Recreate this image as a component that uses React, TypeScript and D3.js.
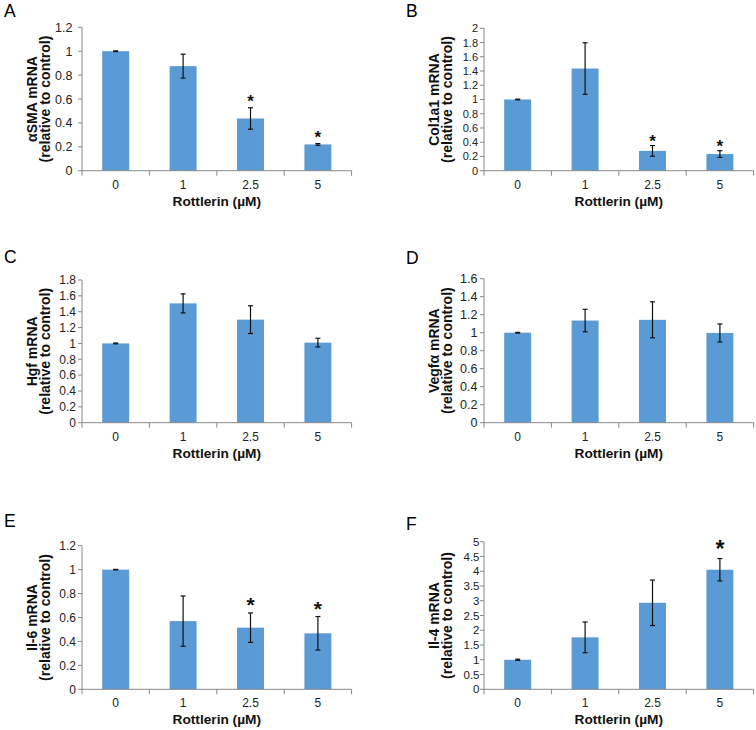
import React from "react";
import * as d3 from "d3";

// ---------- data ----------
const categories = ["0", "1", "2.5", "5"];
const xTitle = "Rottlerin (µM)";

const titleA = ["αSMA mRNA", "(relative to control)"];
const valuesA = [1.0, 0.875, 0.437, 0.22];
const errorsA = [0.003, 0.1, 0.09, 0.007];
const starsA = [false, false, true, true];
const yTicksA = [0, 0.2, 0.4, 0.6, 0.8, 1, 1.2];

const titleB = ["Col1a1 mRNA", "(relative to control)"];
const valuesB = [1.0, 1.435, 0.278, 0.234];
const errorsB = [0.005, 0.362, 0.075, 0.047];
const starsB = [false, false, true, true];
const yTicksB = [0, 0.2, 0.4, 0.6, 0.8, 1, 1.2, 1.4, 1.6, 1.8, 2];

const titleC = ["Hgf mRNA", "(relative to control)"];
const valuesC = [1.0, 1.505, 1.3, 1.01];
const errorsC = [0.005, 0.12, 0.175, 0.055];
const starsC = [false, false, false, false];
const yTicksC = [0, 0.2, 0.4, 0.6, 0.8, 1, 1.2, 1.4, 1.6, 1.8];

const titleD = ["Vegfα mRNA", "(relative to control)"];
const valuesD = [1.0, 1.135, 1.143, 0.997];
const errorsD = [0.004, 0.125, 0.2, 0.1];
const starsD = [false, false, false, false];
const yTicksD = [0, 0.2, 0.4, 0.6, 0.8, 1, 1.2, 1.4, 1.6];

const titleE = ["Il-6 mRNA", "(relative to control)"];
const valuesE = [1.0, 0.57, 0.515, 0.468];
const errorsE = [0.002, 0.21, 0.123, 0.14];
const starsE = [false, false, true, true];
const yTicksE = [0, 0.2, 0.4, 0.6, 0.8, 1, 1.2];

const titleF = ["Il-4 mRNA", "(relative to control)"];
const valuesF = [1.0, 1.76, 2.93, 4.05];
const errorsF = [0.02, 0.52, 0.77, 0.38];
const starsF = [false, false, false, true];
const yTicksF = [0, 0.5, 1, 1.5, 2, 2.5, 3, 3.5, 4, 4.5, 5];

// ---------- styling / layout ----------
const FONT = "'Liberation Sans', Arial, Helvetica, sans-serif";
const BAR = "#5B9BD5";
const AXIS = "#888888";
const PLOT_W = 269.6;

type PanelProps = {
  letter: string;
  title: string[];
  values: number[];
  errors: number[];
  stars: boolean[];
  ticks: number[];
  axisX: number;
  yTop: number;
  yBot: number;
  letterY: number;
  starSize: number;
  starGap: number;
  tickSize: number;
  tickGap: number;
};

const fmt = (t: number) => String(+t.toFixed(2));

function Panel(p: PanelProps) {
  const yMax = p.ticks[p.ticks.length - 1];
  const y = d3.scaleLinear().domain([0, yMax]).range([p.yBot, p.yTop]);
  const x = d3
    .scaleBand<string>()
    .domain(categories)
    .range([p.axisX, p.axisX + PLOT_W])
    .paddingInner(0.6)
    .paddingOuter(0.3);
  const step = x.step();
  const bw = x.bandwidth();
  const midY = (p.yTop + p.yBot) / 2;
  const xMid = p.axisX + PLOT_W / 2;
  return (
    <g>
      <text x={p.axisX - 78} y={p.letterY} fontSize={17.5} fontFamily={FONT} fill="#000">
        {p.letter}
      </text>
      {/* bars */}
      {categories.map((c, i) => (
        <rect
          key={"b" + i}
          x={x(c)}
          y={y(p.values[i])}
          width={bw}
          height={p.yBot - y(p.values[i])}
          fill={BAR}
        />
      ))}
      {/* y axis */}
      <line x1={p.axisX} x2={p.axisX} y1={p.yTop} y2={p.yBot} stroke={AXIS} strokeWidth={1} />
      {p.ticks.map((t, i) => (
        <g key={"yt" + i}>
          <line x1={p.axisX - 4} x2={p.axisX} y1={y(t)} y2={y(t)} stroke={AXIS} strokeWidth={1} />
          <text
            x={p.axisX - p.tickGap}
            y={y(t)}
            dy="0.36em"
            textAnchor="end"
            fontSize={p.tickSize}
            fontFamily={FONT}
            fill="#222"
          >
            {fmt(t)}
          </text>
        </g>
      ))}
      {/* x axis */}
      <line x1={p.axisX} x2={p.axisX + PLOT_W} y1={p.yBot} y2={p.yBot} stroke={AXIS} strokeWidth={1} />
      {d3.range(categories.length + 1).map((i) => (
        <line
          key={"xt" + i}
          x1={p.axisX + i * step}
          x2={p.axisX + i * step}
          y1={p.yBot}
          y2={p.yBot + 5}
          stroke={AXIS}
          strokeWidth={1}
        />
      ))}
      {categories.map((c, i) => (
        <text
          key={"xl" + i}
          x={(x(c) as number) + bw / 2}
          y={p.yBot + 18}
          textAnchor="middle"
          fontSize={12}
          fontFamily={FONT}
          fill="#222"
        >
          {c}
        </text>
      ))}
      <text
        x={xMid}
        y={p.yBot + 35}
        textAnchor="middle"
        fontSize={13.7}
        fontWeight="bold"
        fontFamily={FONT}
        fill="#111"
      >
        {xTitle}
      </text>
      {/* y title */}
      {p.title.map((line, i) => (
        <text
          key={"tt" + i}
          transform={`translate(${p.axisX - 45 + i * 13},${midY}) rotate(-90)`}
          textAnchor="middle"
          fontSize={14}
          fontWeight="bold"
          fontFamily={FONT}
          fill="#111"
        >
          {line}
        </text>
      ))}
      {/* error bars */}
      {categories.map((c, i) => {
        const cx = (x(c) as number) + bw / 2;
        const hi = y(p.values[i] + p.errors[i]);
        const lo = y(p.values[i] - p.errors[i]);
        return (
          <g key={"e" + i} stroke="#111" strokeWidth={1.2}>
            <line x1={cx} x2={cx} y1={hi} y2={lo} />
            <line x1={cx - 2.5} x2={cx + 2.5} y1={hi} y2={hi} />
            <line x1={cx - 2.5} x2={cx + 2.5} y1={lo} y2={lo} />
          </g>
        );
      })}
      {/* significance stars */}
      {categories.map((c, i) =>
        p.stars[i] ? (
          <text
            key={"s" + i}
            x={(x(c) as number) + bw / 2}
            y={y(p.values[i] + p.errors[i]) - p.starGap + 0.57 * p.starSize}
            textAnchor="middle"
            fontSize={p.starSize}
            fontWeight="bold"
            fontFamily={FONT}
            fill="#111"
          >
            *
          </text>
        ) : null
      )}
    </g>
  );
}

export default function App() {
  return (
    <div style={{ position: "absolute", left: 0, top: 0 }}>
      <style>{`body{margin:0;}`}</style>
      <svg width={756} height={730} viewBox="0 0 756 730" style={{ display: "block", background: "#fff" }}>
        <rect x={0} y={0} width={756} height={730} fill="#fff" />
        <Panel letter="A" title={titleA} values={valuesA} errors={errorsA} stars={starsA} ticks={yTicksA}
          axisX={82} yTop={27.3} yBot={170.7} letterY={17} starSize={17} starGap={10.5} tickSize={12.5} tickGap={9.5} />
        <Panel letter="B" title={titleB} values={valuesB} errors={errorsB} stars={starsB} ticks={yTicksB}
          axisX={484} yTop={28.3} yBot={170.7} letterY={17} starSize={17} starGap={8.5} tickSize={11} tickGap={6} />
        <Panel letter="C" title={titleC} values={valuesC} errors={errorsC} stars={starsC} ticks={yTicksC}
          axisX={82} yTop={280} yBot={422.7} letterY={263} starSize={17} starGap={10} tickSize={12} tickGap={6} />
        <Panel letter="D" title={titleD} values={valuesD} errors={errorsD} stars={starsD} ticks={yTicksD}
          axisX={484} yTop={278.7} yBot={422.7} letterY={264} starSize={17} starGap={10} tickSize={12.5} tickGap={6.5} />
        <Panel letter="E" title={titleE} values={valuesE} errors={errorsE} stars={starsE} ticks={yTicksE}
          axisX={82} yTop={545.7} yBot={689.3} letterY={527} starSize={21} starGap={13} tickSize={12} tickGap={6} />
        <Panel letter="F" title={titleF} values={valuesF} errors={errorsF} stars={starsF} ticks={yTicksF}
          axisX={484} yTop={541.7} yBot={689.3} letterY={530} starSize={23} starGap={15} tickSize={11.5} tickGap={4.5} />
      </svg>
    </div>
  );
}
